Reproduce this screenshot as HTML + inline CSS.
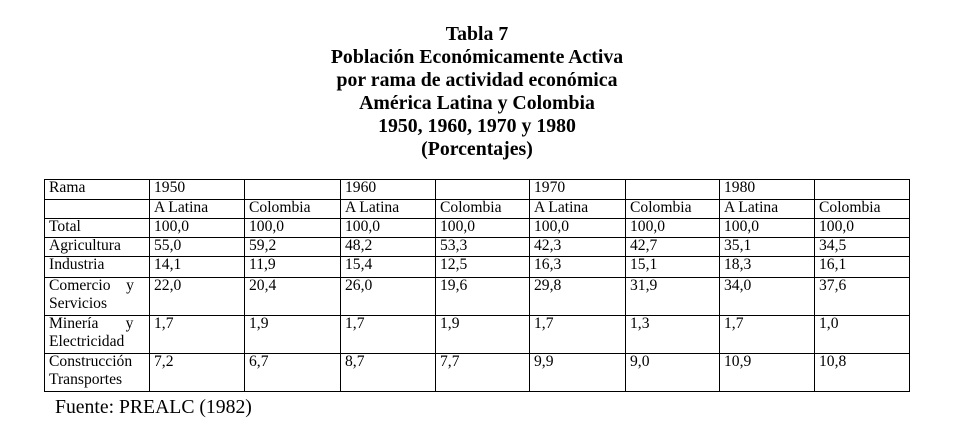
<!DOCTYPE html>
<html><head><meta charset="utf-8"><style>
body{margin:0;background:#fff;width:954px;height:431px;position:relative;overflow:hidden;font-family:"Liberation Serif",serif;color:#000}
.t{position:absolute;left:0;width:954px;text-align:center;font-weight:bold;font-size:19.8px;line-height:23px;top:23px}
.h{position:absolute;background:#000;height:1px}
.v{position:absolute;background:#000;width:1px}
.c{position:absolute;font-size:15.6px;line-height:18px;white-space:nowrap}
</style></head><body>
<div class="t">Tabla 7<br>Población Económicamente Activa<br>por rama de actividad económica<br>América Latina y Colombia<br>1950, 1960, 1970 y 1980<br>(Porcentajes)</div>
<div id="g"></div>
<div class="c" style="left:55px;top:395px;font-size:19.7px;line-height:24px">Fuente: PREALC (1982)</div>
<script>
var xs=[44,149,244,340,435,529,625,719,814,909],ys=[179,199,218,237,256,277,315,353,391];
var g=document.getElementById('g'),h='';
ys.forEach(function(y){h+='<div class="h" style="left:44px;width:866px;top:'+y+'px"></div>'});
xs.forEach(function(x){h+='<div class="v" style="left:'+x+'px;top:179px;height:213px"></div>'});
var rows=[["Rama","1950","","1960","","1970","","1980",""],
["","A Latina","Colombia","A Latina","Colombia","A Latina","Colombia","A Latina","Colombia"],
["Total","100,0","100,0","100,0","100,0","100,0","100,0","100,0","100,0"],
["Agricultura","55,0","59,2","48,2","53,3","42,3","42,7","35,1","34,5"],
["Industria","14,1","11,9","15,4","12,5","16,3","15,1","18,3","16,1"],
["Comercio&nbsp;&nbsp;&nbsp; y<br>Servicios","22,0","20,4","26,0","19,6","29,8","31,9","34,0","37,6"],
["Minería&nbsp;&nbsp;&nbsp;&nbsp;&nbsp;&nbsp; y<br>Electricidad","1,7","1,9","1,7","1,9","1,7","1,3","1,7","1,0"],
["Construcción<br>Transportes","7,2","6,7","8,7","7,7","9,9","9,0","10,9","10,8"]];
rows.forEach(function(r,i){r.forEach(function(t,j){h+='<div class="c" style="left:'+(xs[j]+5)+'px;top:'+(ys[i]+0)+'px">'+t+'</div>'})});
g.innerHTML=h;
</script>
</body></html>
